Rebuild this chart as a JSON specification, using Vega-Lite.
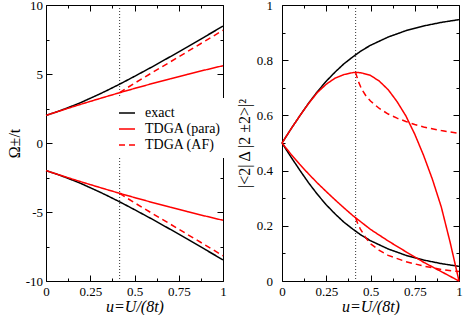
{
  "$schema": "https://vega.github.io/schema/vega-lite/v6.json",
  "autosize": "none",
  "padding": {"left": 46, "top": 5, "right": 417, "bottom": 310},
  "config": {
    "font": "Liberation Serif",
    "view": {"stroke": "black", "strokeWidth": 1},
    "axis": {
      "domain": false, "grid": false,
      "labelFont": "Liberation Serif", "labelFontSize": 13, "labelColor": "black",
      "titleFont": "Liberation Serif", "titleFontSize": 16, "titleFontWeight": "normal", "titleColor": "black",
      "tickColor": "black", "tickWidth": 1, "labelFlush": false, "labelOverlap": false
    },
    "legend": {"labelFont": "Liberation Serif", "labelFontSize": 14, "labelColor": "black", "labelLimit": 300}
  },
  "datasets": {
    "omega": [
      {"s": "exact", "b": "p", "u": 0, "v": 2}, {"s": "exact", "b": "p", "u": 0.05, "v": 2.21}, {"s": "exact", "b": "p", "u": 0.1, "v": 2.44}, {"s": "exact", "b": "p", "u": 0.15, "v": 2.69}, {"s": "exact", "b": "p", "u": 0.2, "v": 2.95}, {"s": "exact", "b": "p", "u": 0.25, "v": 3.24}, {"s": "exact", "b": "p", "u": 0.3, "v": 3.53}, {"s": "exact", "b": "p", "u": 0.35, "v": 3.84}, {"s": "exact", "b": "p", "u": 0.4, "v": 4.16}, {"s": "exact", "b": "p", "u": 0.45, "v": 4.49}, {"s": "exact", "b": "p", "u": 0.5, "v": 4.83}, {"s": "exact", "b": "p", "u": 0.6, "v": 5.52}, {"s": "exact", "b": "p", "u": 0.7, "v": 6.24}, {"s": "exact", "b": "p", "u": 0.8, "v": 6.97}, {"s": "exact", "b": "p", "u": 0.9, "v": 7.72}, {"s": "exact", "b": "p", "u": 1, "v": 8.47},
      {"s": "exact", "b": "m", "u": 0, "v": -2}, {"s": "exact", "b": "m", "u": 0.05, "v": -2.21}, {"s": "exact", "b": "m", "u": 0.1, "v": -2.44}, {"s": "exact", "b": "m", "u": 0.15, "v": -2.69}, {"s": "exact", "b": "m", "u": 0.2, "v": -2.95}, {"s": "exact", "b": "m", "u": 0.25, "v": -3.24}, {"s": "exact", "b": "m", "u": 0.3, "v": -3.53}, {"s": "exact", "b": "m", "u": 0.35, "v": -3.84}, {"s": "exact", "b": "m", "u": 0.4, "v": -4.16}, {"s": "exact", "b": "m", "u": 0.45, "v": -4.49}, {"s": "exact", "b": "m", "u": 0.5, "v": -4.83}, {"s": "exact", "b": "m", "u": 0.6, "v": -5.52}, {"s": "exact", "b": "m", "u": 0.7, "v": -6.24}, {"s": "exact", "b": "m", "u": 0.8, "v": -6.97}, {"s": "exact", "b": "m", "u": 0.9, "v": -7.72}, {"s": "exact", "b": "m", "u": 1, "v": -8.47},
      {"s": "TDGA (para)", "b": "p", "u": 0, "v": 2}, {"s": "TDGA (para)", "b": "p", "u": 0.05, "v": 2.209}, {"s": "TDGA (para)", "b": "p", "u": 0.1, "v": 2.415}, {"s": "TDGA (para)", "b": "p", "u": 0.15, "v": 2.618}, {"s": "TDGA (para)", "b": "p", "u": 0.2, "v": 2.818}, {"s": "TDGA (para)", "b": "p", "u": 0.25, "v": 3.014}, {"s": "TDGA (para)", "b": "p", "u": 0.3, "v": 3.208}, {"s": "TDGA (para)", "b": "p", "u": 0.35, "v": 3.399}, {"s": "TDGA (para)", "b": "p", "u": 0.4, "v": 3.586}, {"s": "TDGA (para)", "b": "p", "u": 0.45, "v": 3.771}, {"s": "TDGA (para)", "b": "p", "u": 0.5, "v": 3.953}, {"s": "TDGA (para)", "b": "p", "u": 0.6, "v": 4.306}, {"s": "TDGA (para)", "b": "p", "u": 0.7, "v": 4.648}, {"s": "TDGA (para)", "b": "p", "u": 0.8, "v": 4.978}, {"s": "TDGA (para)", "b": "p", "u": 0.9, "v": 5.295}, {"s": "TDGA (para)", "b": "p", "u": 1, "v": 5.6},
      {"s": "TDGA (para)", "b": "m", "u": 0, "v": -2}, {"s": "TDGA (para)", "b": "m", "u": 0.05, "v": -2.209}, {"s": "TDGA (para)", "b": "m", "u": 0.1, "v": -2.415}, {"s": "TDGA (para)", "b": "m", "u": 0.15, "v": -2.618}, {"s": "TDGA (para)", "b": "m", "u": 0.2, "v": -2.818}, {"s": "TDGA (para)", "b": "m", "u": 0.25, "v": -3.014}, {"s": "TDGA (para)", "b": "m", "u": 0.3, "v": -3.208}, {"s": "TDGA (para)", "b": "m", "u": 0.35, "v": -3.399}, {"s": "TDGA (para)", "b": "m", "u": 0.4, "v": -3.586}, {"s": "TDGA (para)", "b": "m", "u": 0.45, "v": -3.771}, {"s": "TDGA (para)", "b": "m", "u": 0.5, "v": -3.953}, {"s": "TDGA (para)", "b": "m", "u": 0.6, "v": -4.306}, {"s": "TDGA (para)", "b": "m", "u": 0.7, "v": -4.648}, {"s": "TDGA (para)", "b": "m", "u": 0.8, "v": -4.978}, {"s": "TDGA (para)", "b": "m", "u": 0.9, "v": -5.295}, {"s": "TDGA (para)", "b": "m", "u": 1, "v": -5.6},
      {"s": "TDGA (AF)", "b": "p", "u": 0.416, "v": 3.65}, {"s": "TDGA (AF)", "b": "p", "u": 0.45, "v": 3.93}, {"s": "TDGA (AF)", "b": "p", "u": 0.5, "v": 4.33}, {"s": "TDGA (AF)", "b": "p", "u": 0.6, "v": 5.1}, {"s": "TDGA (AF)", "b": "p", "u": 0.7, "v": 5.86}, {"s": "TDGA (AF)", "b": "p", "u": 0.8, "v": 6.63}, {"s": "TDGA (AF)", "b": "p", "u": 0.9, "v": 7.4}, {"s": "TDGA (AF)", "b": "p", "u": 1, "v": 8.17},
      {"s": "TDGA (AF)", "b": "m", "u": 0.416, "v": -3.65}, {"s": "TDGA (AF)", "b": "m", "u": 0.45, "v": -3.93}, {"s": "TDGA (AF)", "b": "m", "u": 0.5, "v": -4.33}, {"s": "TDGA (AF)", "b": "m", "u": 0.6, "v": -5.1}, {"s": "TDGA (AF)", "b": "m", "u": 0.7, "v": -5.86}, {"s": "TDGA (AF)", "b": "m", "u": 0.8, "v": -6.63}, {"s": "TDGA (AF)", "b": "m", "u": 0.9, "v": -7.4}, {"s": "TDGA (AF)", "b": "m", "u": 1, "v": -8.17}
    ],
    "weight": [
      {"s": "exact", "b": "p", "u": 0, "v": 0.5}, {"s": "exact", "b": "p", "u": 0.05, "v": 0.55}, {"s": "exact", "b": "p", "u": 0.1, "v": 0.598}, {"s": "exact", "b": "p", "u": 0.15, "v": 0.644}, {"s": "exact", "b": "p", "u": 0.2, "v": 0.686}, {"s": "exact", "b": "p", "u": 0.25, "v": 0.724}, {"s": "exact", "b": "p", "u": 0.3, "v": 0.757}, {"s": "exact", "b": "p", "u": 0.35, "v": 0.787}, {"s": "exact", "b": "p", "u": 0.4, "v": 0.812}, {"s": "exact", "b": "p", "u": 0.45, "v": 0.835}, {"s": "exact", "b": "p", "u": 0.5, "v": 0.854}, {"s": "exact", "b": "p", "u": 0.6, "v": 0.884}, {"s": "exact", "b": "p", "u": 0.7, "v": 0.907}, {"s": "exact", "b": "p", "u": 0.8, "v": 0.924}, {"s": "exact", "b": "p", "u": 0.9, "v": 0.937}, {"s": "exact", "b": "p", "u": 1, "v": 0.947},
      {"s": "exact", "b": "m", "u": 0, "v": 0.5}, {"s": "exact", "b": "m", "u": 0.05, "v": 0.45}, {"s": "exact", "b": "m", "u": 0.1, "v": 0.402}, {"s": "exact", "b": "m", "u": 0.15, "v": 0.356}, {"s": "exact", "b": "m", "u": 0.2, "v": 0.314}, {"s": "exact", "b": "m", "u": 0.25, "v": 0.276}, {"s": "exact", "b": "m", "u": 0.3, "v": 0.243}, {"s": "exact", "b": "m", "u": 0.35, "v": 0.213}, {"s": "exact", "b": "m", "u": 0.4, "v": 0.188}, {"s": "exact", "b": "m", "u": 0.45, "v": 0.165}, {"s": "exact", "b": "m", "u": 0.5, "v": 0.146}, {"s": "exact", "b": "m", "u": 0.6, "v": 0.116}, {"s": "exact", "b": "m", "u": 0.7, "v": 0.093}, {"s": "exact", "b": "m", "u": 0.8, "v": 0.076}, {"s": "exact", "b": "m", "u": 0.9, "v": 0.063}, {"s": "exact", "b": "m", "u": 1, "v": 0.053},
      {"s": "TDGA (para)", "b": "p", "u": 0, "v": 0.5}, {"s": "TDGA (para)", "b": "p", "u": 0.05, "v": 0.55}, {"s": "TDGA (para)", "b": "p", "u": 0.1, "v": 0.598}, {"s": "TDGA (para)", "b": "p", "u": 0.15, "v": 0.643}, {"s": "TDGA (para)", "b": "p", "u": 0.2, "v": 0.683}, {"s": "TDGA (para)", "b": "p", "u": 0.25, "v": 0.713}, {"s": "TDGA (para)", "b": "p", "u": 0.3, "v": 0.735}, {"s": "TDGA (para)", "b": "p", "u": 0.35, "v": 0.748}, {"s": "TDGA (para)", "b": "p", "u": 0.4, "v": 0.755}, {"s": "TDGA (para)", "b": "p", "u": 0.42, "v": 0.756}, {"s": "TDGA (para)", "b": "p", "u": 0.45, "v": 0.754}, {"s": "TDGA (para)", "b": "p", "u": 0.5, "v": 0.745}, {"s": "TDGA (para)", "b": "p", "u": 0.55, "v": 0.724}, {"s": "TDGA (para)", "b": "p", "u": 0.6, "v": 0.693}, {"s": "TDGA (para)", "b": "p", "u": 0.65, "v": 0.65}, {"s": "TDGA (para)", "b": "p", "u": 0.7, "v": 0.598}, {"s": "TDGA (para)", "b": "p", "u": 0.75, "v": 0.532}, {"s": "TDGA (para)", "b": "p", "u": 0.8, "v": 0.455}, {"s": "TDGA (para)", "b": "p", "u": 0.85, "v": 0.368}, {"s": "TDGA (para)", "b": "p", "u": 0.9, "v": 0.268}, {"s": "TDGA (para)", "b": "p", "u": 0.95, "v": 0.14}, {"s": "TDGA (para)", "b": "p", "u": 1, "v": 0},
      {"s": "TDGA (para)", "b": "m", "u": 0, "v": 0.5}, {"s": "TDGA (para)", "b": "m", "u": 0.05, "v": 0.46}, {"s": "TDGA (para)", "b": "m", "u": 0.1, "v": 0.423}, {"s": "TDGA (para)", "b": "m", "u": 0.15, "v": 0.388}, {"s": "TDGA (para)", "b": "m", "u": 0.2, "v": 0.355}, {"s": "TDGA (para)", "b": "m", "u": 0.25, "v": 0.324}, {"s": "TDGA (para)", "b": "m", "u": 0.3, "v": 0.294}, {"s": "TDGA (para)", "b": "m", "u": 0.35, "v": 0.265}, {"s": "TDGA (para)", "b": "m", "u": 0.4, "v": 0.237}, {"s": "TDGA (para)", "b": "m", "u": 0.45, "v": 0.212}, {"s": "TDGA (para)", "b": "m", "u": 0.5, "v": 0.187}, {"s": "TDGA (para)", "b": "m", "u": 0.6, "v": 0.145}, {"s": "TDGA (para)", "b": "m", "u": 0.7, "v": 0.106}, {"s": "TDGA (para)", "b": "m", "u": 0.8, "v": 0.068}, {"s": "TDGA (para)", "b": "m", "u": 0.9, "v": 0.034}, {"s": "TDGA (para)", "b": "m", "u": 1, "v": 0},
      {"s": "TDGA (AF)", "b": "p", "u": 0.416, "v": 0.756}, {"s": "TDGA (AF)", "b": "p", "u": 0.43, "v": 0.725}, {"s": "TDGA (AF)", "b": "p", "u": 0.45, "v": 0.695}, {"s": "TDGA (AF)", "b": "p", "u": 0.475, "v": 0.67}, {"s": "TDGA (AF)", "b": "p", "u": 0.5, "v": 0.652}, {"s": "TDGA (AF)", "b": "p", "u": 0.55, "v": 0.625}, {"s": "TDGA (AF)", "b": "p", "u": 0.6, "v": 0.605}, {"s": "TDGA (AF)", "b": "p", "u": 0.65, "v": 0.59}, {"s": "TDGA (AF)", "b": "p", "u": 0.7, "v": 0.578}, {"s": "TDGA (AF)", "b": "p", "u": 0.75, "v": 0.567}, {"s": "TDGA (AF)", "b": "p", "u": 0.8, "v": 0.558}, {"s": "TDGA (AF)", "b": "p", "u": 0.9, "v": 0.545}, {"s": "TDGA (AF)", "b": "p", "u": 1, "v": 0.535},
      {"s": "TDGA (AF)", "b": "m", "u": 0.416, "v": 0.228}, {"s": "TDGA (AF)", "b": "m", "u": 0.43, "v": 0.205}, {"s": "TDGA (AF)", "b": "m", "u": 0.443, "v": 0.188}, {"s": "TDGA (AF)", "b": "m", "u": 0.47, "v": 0.16}, {"s": "TDGA (AF)", "b": "m", "u": 0.5, "v": 0.135}, {"s": "TDGA (AF)", "b": "m", "u": 0.55, "v": 0.111}, {"s": "TDGA (AF)", "b": "m", "u": 0.6, "v": 0.093}, {"s": "TDGA (AF)", "b": "m", "u": 0.7, "v": 0.07}, {"s": "TDGA (AF)", "b": "m", "u": 0.8, "v": 0.054}, {"s": "TDGA (AF)", "b": "m", "u": 0.9, "v": 0.042}, {"s": "TDGA (AF)", "b": "m", "u": 1, "v": 0.034}
    ],
    "vline": [{"u": 0.416}]
  },
  "bounds": "flush",
  "spacing": 59,
  "resolve": {"scale": {"color": "independent", "strokeDash": "independent"}, "legend": {"color": "independent", "strokeDash": "independent"}},
  "hconcat": [
    {
      "width": 177, "height": 276,
      "resolve": {"axis": {"x": "independent", "y": "independent"}},
      "layer": [
        {
          "data": {"name": "vline"},
          "mark": {"type": "rule", "color": "black", "strokeDash": [1, 2], "strokeWidth": 0.8},
          "encoding": {"x": {"field": "u", "type": "quantitative", "scale": {"domain": [0, 1], "nice": false}, "axis": null}}
        },
        {
          "data": {"name": "omega"},
          "mark": {"type": "line", "strokeWidth": 1.5},
          "encoding": {
            "x": {"field": "u", "type": "quantitative", "scale": {"domain": [0, 1], "nice": false},
              "axis": {"orient": "bottom", "values": [0, 0.125, 0.25, 0.375, 0.5, 0.625, 0.75, 0.875, 1],
                "labelExpr": "(datum.value*4)%1==0 ? ''+datum.value : ''",
                "tickSize": {"condition": {"test": "(datum.value*4)%1!=0", "value": -3}, "value": -6},
                "labelPadding": 10, "title": "u=U/(8t)", "titleFontStyle": "italic", "titlePadding": -3}},
            "y": {"field": "v", "type": "quantitative", "scale": {"domain": [-10, 10], "nice": false},
              "axis": {"orient": "left", "values": [-10, -7.5, -5, -2.5, 0, 2.5, 5, 7.5, 10],
                "labelExpr": "datum.value%5==0 ? ''+datum.value : ''",
                "tickSize": {"condition": {"test": "datum.value%5!=0", "value": -3}, "value": -6},
                "labelPadding": 9.5, "title": "Ω±/t", "titlePadding": 3}},
            "color": {"field": "s", "type": "nominal", "scale": {"domain": ["exact", "TDGA (para)", "TDGA (AF)"], "range": ["#000000", "#ff0000", "#ff0000"]},
              "legend": {"orient": "none", "legendX": 66, "legendY": 93, "title": null, "symbolType": "stroke", "symbolSize": 256, "symbolStrokeWidth": 1.5, "labelFontSize": 14, "labelFont": "Liberation Serif", "labelColor": "black", "labelLimit": 300, "fillColor": "white", "padding": 6, "rowPadding": -2, "labelOffset": 9}},
            "strokeDash": {"field": "s", "type": "nominal", "scale": {"domain": ["exact", "TDGA (para)", "TDGA (AF)"], "range": [[1, 0], [1, 0], [6, 4]]},
              "legend": {"orient": "none", "legendX": 66, "legendY": 93, "title": null, "symbolType": "stroke", "symbolSize": 256, "symbolStrokeWidth": 1.5, "labelFontSize": 14, "labelFont": "Liberation Serif", "labelColor": "black", "labelLimit": 300, "fillColor": "white", "padding": 6, "rowPadding": -2, "labelOffset": 9}},
            "detail": {"field": "b"}
          }
        },
        {
          "data": {"name": "omega"},
          "mark": {"type": "line", "opacity": 0},
          "encoding": {
            "x": {"field": "u", "type": "quantitative", "scale": {"domain": [0, 1], "nice": false},
              "axis": {"orient": "top", "values": [0, 0.125, 0.25, 0.375, 0.5, 0.625, 0.75, 0.875, 1], "labels": false, "title": null,
                "tickSize": {"condition": {"test": "(datum.value*4)%1!=0", "value": -3}, "value": -6}}},
            "y": {"field": "v", "type": "quantitative", "scale": {"domain": [-10, 10], "nice": false},
              "axis": {"orient": "right", "values": [-10, -7.5, -5, -2.5, 0, 2.5, 5, 7.5, 10], "labels": false, "title": null,
                "tickSize": {"condition": {"test": "datum.value%5!=0", "value": -3}, "value": -6}}},
            "detail": {"field": "b"}
          }
        }
      ]
    },
    {
      "width": 177, "height": 276,
      "resolve": {"axis": {"x": "independent", "y": "independent"}},
      "layer": [
        {
          "data": {"name": "vline"},
          "mark": {"type": "rule", "color": "black", "strokeDash": [1, 2], "strokeWidth": 0.8},
          "encoding": {"x": {"field": "u", "type": "quantitative", "scale": {"domain": [0, 1], "nice": false}, "axis": null}}
        },
        {
          "data": {"name": "weight"},
          "mark": {"type": "line", "strokeWidth": 1.5},
          "encoding": {
            "x": {"field": "u", "type": "quantitative", "scale": {"domain": [0, 1], "nice": false},
              "axis": {"orient": "bottom", "values": [0, 0.125, 0.25, 0.375, 0.5, 0.625, 0.75, 0.875, 1],
                "labelExpr": "(datum.value*4)%1==0 ? ''+datum.value : ''",
                "tickSize": {"condition": {"test": "(datum.value*4)%1!=0", "value": -3}, "value": -6},
                "labelPadding": 10, "title": "u=U/(8t)", "titleFontStyle": "italic", "titlePadding": -3}},
            "y": {"field": "v", "type": "quantitative", "scale": {"domain": [0, 1], "nice": false},
              "axis": {"orient": "left", "values": [0, 0.1, 0.2, 0.3, 0.4, 0.5, 0.6, 0.7, 0.8, 0.9, 1],
                "labelExpr": "round(datum.value*10)%2==0 ? ''+round(datum.value*10)/10 : ''",
                "tickSize": {"condition": {"test": "round(datum.value*10)%2!=0", "value": -3}, "value": -6},
                "labelPadding": 15.5, "title": "|<2| Δ |2 ±2>|²", "titlePadding": 4}},
            "color": {"field": "s", "type": "nominal", "scale": {"domain": ["exact", "TDGA (para)", "TDGA (AF)"], "range": ["#000000", "#ff0000", "#ff0000"]}, "legend": null},
            "strokeDash": {"field": "s", "type": "nominal", "scale": {"domain": ["exact", "TDGA (para)", "TDGA (AF)"], "range": [[1, 0], [1, 0], [6, 4]]}, "legend": null},
            "detail": {"field": "b"}
          }
        },
        {
          "data": {"name": "weight"},
          "mark": {"type": "line", "opacity": 0},
          "encoding": {
            "x": {"field": "u", "type": "quantitative", "scale": {"domain": [0, 1], "nice": false},
              "axis": {"orient": "top", "values": [0, 0.125, 0.25, 0.375, 0.5, 0.625, 0.75, 0.875, 1], "labels": false, "title": null,
                "tickSize": {"condition": {"test": "(datum.value*4)%1!=0", "value": -3}, "value": -6}}},
            "y": {"field": "v", "type": "quantitative", "scale": {"domain": [0, 1], "nice": false},
              "axis": {"orient": "right", "values": [0, 0.1, 0.2, 0.3, 0.4, 0.5, 0.6, 0.7, 0.8, 0.9, 1], "labels": false, "title": null,
                "tickSize": {"condition": {"test": "round(datum.value*10)%2!=0", "value": -3}, "value": -6}}},
            "detail": {"field": "b"}
          }
        }
      ]
    }
  ]
}
